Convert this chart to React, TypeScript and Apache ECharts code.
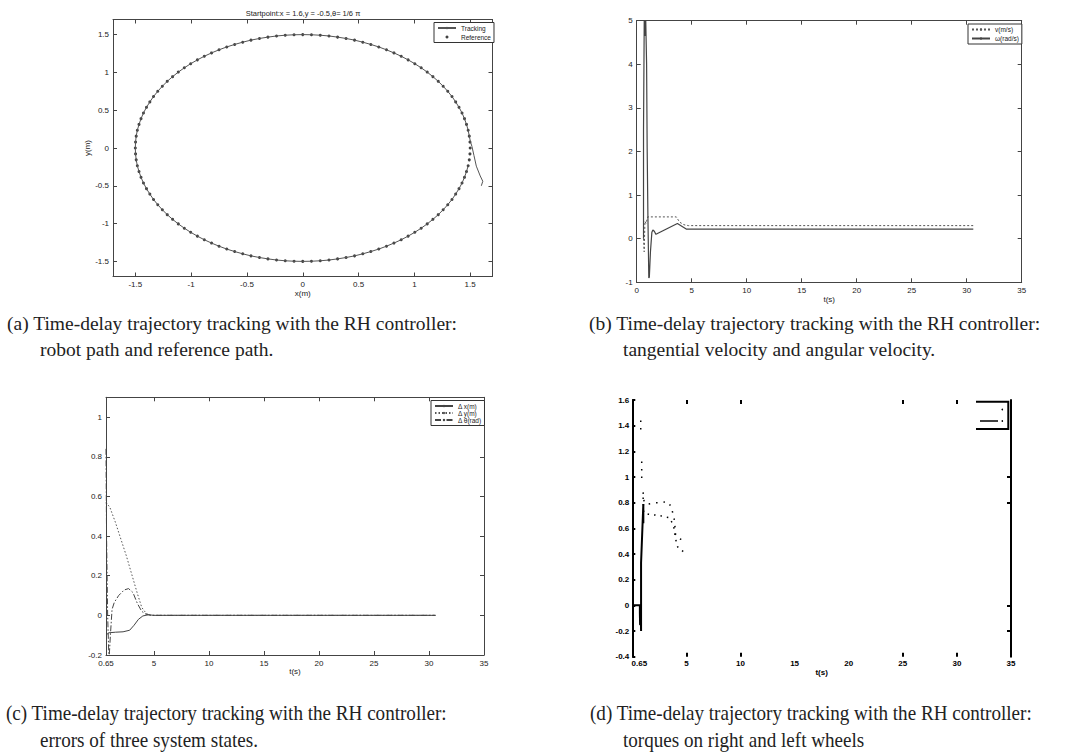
import React, { useEffect, useRef } from "react";
import * as echarts from "echarts";

// ---------- data ----------
// (a) reference circle (radius 1.5) read off the dotted path
const refPath: number[][] = [
  [1.5, 0.0], [1.498, 0.078], [1.492, 0.157], [1.482, 0.235], [1.467, 0.312], [1.449, 0.388], [1.427, 0.464], [1.4, 0.538], [1.37, 0.61], [1.337, 0.681], [1.299, 0.75], [1.258, 0.817], [1.214, 0.882], [1.166, 0.944], [1.115, 1.004], [1.061, 1.061], [1.004, 1.115], [0.944, 1.166], [0.882, 1.214], [0.817, 1.258], [0.75, 1.299], [0.681, 1.337], [0.61, 1.37], [0.538, 1.4], [0.464, 1.427], [0.388, 1.449], [0.312, 1.467], [0.235, 1.482], [0.157, 1.492], [0.078, 1.498],
  [0.0, 1.5], [-0.078, 1.498], [-0.157, 1.492], [-0.235, 1.482], [-0.312, 1.467], [-0.388, 1.449], [-0.464, 1.427], [-0.538, 1.4], [-0.61, 1.37], [-0.681, 1.337], [-0.75, 1.299], [-0.817, 1.258], [-0.882, 1.214], [-0.944, 1.166], [-1.004, 1.115], [-1.061, 1.061], [-1.115, 1.004], [-1.166, 0.944], [-1.214, 0.882], [-1.258, 0.817], [-1.299, 0.75], [-1.337, 0.681], [-1.37, 0.61], [-1.4, 0.538], [-1.427, 0.464], [-1.449, 0.388], [-1.467, 0.312], [-1.482, 0.235], [-1.492, 0.157], [-1.498, 0.078],
  [-1.5, 0.0], [-1.498, -0.078], [-1.492, -0.157], [-1.482, -0.235], [-1.467, -0.312], [-1.449, -0.388], [-1.427, -0.464], [-1.4, -0.538], [-1.37, -0.61], [-1.337, -0.681], [-1.299, -0.75], [-1.258, -0.817], [-1.214, -0.882], [-1.166, -0.944], [-1.115, -1.004], [-1.061, -1.061], [-1.004, -1.115], [-0.944, -1.166], [-0.882, -1.214], [-0.817, -1.258], [-0.75, -1.299], [-0.681, -1.337], [-0.61, -1.37], [-0.538, -1.4], [-0.464, -1.427], [-0.388, -1.449], [-0.312, -1.467], [-0.235, -1.482], [-0.157, -1.492], [-0.078, -1.498],
  [0.0, -1.5], [0.078, -1.498], [0.157, -1.492], [0.235, -1.482], [0.312, -1.467], [0.388, -1.449], [0.464, -1.427], [0.538, -1.4], [0.61, -1.37], [0.681, -1.337], [0.75, -1.299], [0.817, -1.258], [0.882, -1.214], [0.944, -1.166], [1.004, -1.115], [1.061, -1.061], [1.115, -1.004], [1.166, -0.944], [1.214, -0.882], [1.258, -0.817], [1.299, -0.75], [1.337, -0.681], [1.37, -0.61], [1.4, -0.538], [1.427, -0.464], [1.449, -0.388], [1.467, -0.312], [1.482, -0.235], [1.492, -0.157], [1.498, -0.078],
];
// (a) robot start-up segment before it joins the reference
const trackStart: number[][] = [
  [1.6, -0.5], [1.613, -0.44], [1.59, -0.37], [1.555, -0.24], [1.534, -0.1], [1.516, 0.02], [1.503, 0.08],
];
const axisTicksA = [-1.5, -1, -0.5, 0, 0.5, 1, 1.5];

// (b) velocities
const vData: number[][] = [
  [0.62, 0], [0.68, -0.3], [0.75, 0.4], [0.85, 0.35], [0.95, 0.45], [1.0, 0.5], [3.6, 0.5], [3.9, 0.38], [4.3, 0.32], [4.7, 0.3], [30.6, 0.3],
];
const wData: number[][] = [
  [0.62, 0], [0.62, 2.5], [0.7, 5.6], [0.76, 4.65], [0.8, 5.3], [0.9, 4.0], [0.95, 2.1], [1.02, 0.5], [1.1, -0.9], [1.15, -0.88], [1.25, -0.3], [1.38, 0.15], [1.47, 0.2], [1.6, 0.17], [1.75, 0.1], [3.7, 0.35], [4.5, 0.22], [30.6, 0.22],
];
const xTicksB = [0, 5, 10, 15, 20, 25, 30, 35];
const yTicksB = [-1, 0, 1, 2, 3, 4, 5];

// (c) state errors
const dxData: number[][] = [
  [0.65, -0.1], [0.9, -0.088], [1.5, -0.085], [2.2, -0.083], [2.8, -0.075], [3.2, -0.05], [3.6, -0.02], [4.0, -0.003], [4.5, 0.003], [5, 0], [30.6, 0],
];
const dyData: number[][] = [
  [0.65, 0.57], [1.0, 0.545], [1.5, 0.47], [2.0, 0.385], [2.5, 0.3], [3.0, 0.205], [3.5, 0.11], [3.9, 0.04], [4.3, 0.01], [4.7, 0], [30.6, 0],
];
const dthData: number[][] = [
  [0.65, 0.84], [0.7, 0.4], [0.8, 0.0], [0.9, -0.19], [0.95, -0.2], [1.05, -0.1], [1.2, 0.03], [1.4, 0.065], [1.8, 0.1], [2.3, 0.128], [2.7, 0.135], [3.1, 0.115], [3.5, 0.06], [3.9, 0.02], [4.3, 0.005], [4.8, 0], [30.6, 0],
];
const xTicksC = [0.65, 5, 10, 15, 20, 25, 30, 35];
const yTicksC = [-0.2, 0, 0.2, 0.4, 0.6, 0.8, 1];

// (d) wheel torques
const tauRData: (number | null)[][] = [
  [0.78, 1.44], [0.78, 1.34], [0.8, null], [0.87, 1.12], [0.87, 0.99], [0.9, null], [1.0, 0.88], [1.1, 0.8], [1.5, 0.79], [2.1, 0.8], [2.7, 0.8], [3.2, 0.81], [3.6, 0.77], [3.9, 0.66], [4.0, 0.55], [4.3, 0.52], [4.7, 0.51], [5.0, 0.51],
];
const tauLData: number[][] = [
  [1.0, 0.84], [1.05, 0.72], [1.5, 0.71], [2.0, 0.705], [2.5, 0.7], [3.0, 0.69], [3.4, 0.684], [3.66, 0.647], [3.8, 0.626], [3.9, 0.574], [4.0, 0.521], [4.1, 0.48], [4.2, 0.455], [4.4, 0.437], [4.7, 0.42], [5.1, 0.41],
];
const tauSData: number[][] = [
  [0, 0], [0.7, 0], [0.7, -0.06], [0.72, -0.15], [0.8, -0.15], [0.81, -0.2], [0.81, 0.33], [0.85, 0.33], [1.02, 0.79], [1.02, 0.64],
];
const xTicksD = [0.65, 5, 10, 15, 20, 25, 30, 35];
const xTopTicksD = [5, 10, 25, 30];
const yTicksD = [-0.4, -0.2, 0, 0.2, 0.4, 0.6, 0.8, 1, 1.2, 1.4, 1.6];
const yRightTicksD = [-0.2, 0, 0.8, 1];

const SANS = '"Liberation Sans", Arial, sans-serif';
const SERIF = '"Liberation Serif", "Times New Roman", serif';
const AX = "#444";
const LBL = { fontSize: 8, color: "#222", fontFamily: SANS };

function xAxes(gi: number, min: number, max: number, ticks: number[], name: string, nameGap: number, topTicks?: number[]) {
  return [
    {
      type: "value", gridIndex: gi, position: "bottom", min, max, name, nameLocation: "middle", nameGap,
      nameTextStyle: { ...LBL },
      axisLine: { show: true, onZero: false, lineStyle: { color: AX, width: 1 } },
      axisTick: { show: true, inside: true, length: 4, customValues: ticks, lineStyle: { color: AX } },
      axisLabel: { show: true, margin: 4, customValues: ticks, ...LBL },
      splitLine: { show: false },
    },
    {
      type: "value", gridIndex: gi, position: "top", min, max,
      axisLine: { show: true, onZero: false, lineStyle: { color: AX, width: 1 } },
      axisTick: { show: true, inside: true, length: 4, customValues: topTicks || ticks, lineStyle: { color: AX } },
      axisLabel: { show: false },
      splitLine: { show: false },
    },
  ];
}
function yAxes(gi: number, min: number, max: number, ticks: number[], name?: string, nameGap?: number) {
  return [
    {
      type: "value", gridIndex: gi, position: "left", min, max, name, nameLocation: "middle", nameGap, nameRotate: 90,
      nameTextStyle: { ...LBL },
      axisLine: { show: true, onZero: false, lineStyle: { color: AX, width: 1 } },
      axisTick: { show: true, inside: true, length: 4, customValues: ticks, lineStyle: { color: AX } },
      axisLabel: { show: true, margin: 4, customValues: ticks, ...LBL },
      splitLine: { show: false },
    },
    {
      type: "value", gridIndex: gi, position: "right", min, max,
      axisLine: { show: true, onZero: false, lineStyle: { color: AX, width: 1 } },
      axisTick: { show: true, inside: true, length: 4, customValues: ticks, lineStyle: { color: AX } },
      axisLabel: { show: false },
      splitLine: { show: false },
    },
  ];
}

export default function App() {
  const ref = useRef<HTMLDivElement>(null);
  useEffect(() => {
    if (!ref.current) return;
    const chart = echarts.init(ref.current, null, { renderer: "svg" });

    const tracking = trackStart.concat(refPath.slice(2, 118));

    const xa: any[] = [
      ...xAxes(0, -1.7, 1.7, axisTicksA, "x(m)", 12),
      ...xAxes(1, 0, 35, xTicksB, "t(s)", 12),
      ...xAxes(2, 0.65, 35, xTicksC, "t(s)", 12),
      ...xAxes(3, 0, 35, xTicksD, "t(s)", 11, xTopTicksD),
    ];
    const ya: any[] = [
      ...yAxes(0, -1.7, 1.7, axisTicksA, "y(m)", 17),
      ...yAxes(1, -1, 5, yTicksB),
      ...yAxes(2, -0.2, 1.1, yTicksC),
      ...yAxes(3, -0.4, 1.6, yTicksD),
    ];
    // panel (d): degraded look - thick left/right lines, no top/bottom lines, bold labels
    const dStrong = { fontSize: 8, color: "#000", fontWeight: "bold", fontFamily: SANS };
    xa[6].axisLine = { show: false, onZero: false };
    xa[6].axisTick = { show: true, inside: true, length: 4, customValues: xTopTicksD, lineStyle: { color: "#000", width: 2 } };
    xa[6].axisLabel = { show: true, margin: 3, customValues: xTicksD, ...dStrong };
    xa[6].nameTextStyle = { ...dStrong };
    xa[7].axisLine = { show: false, onZero: false };
    xa[7].axisTick = { show: true, inside: true, length: 4, customValues: xTopTicksD, lineStyle: { color: "#000", width: 2 } };
    ya[6].axisLine = { show: true, onZero: false, lineStyle: { color: "#000", width: 2 } };
    ya[6].axisTick = { show: true, inside: true, length: 3, customValues: yTicksD, lineStyle: { color: "#000", width: 2 } };
    ya[6].axisLabel = { show: true, margin: 3, customValues: yTicksD, ...dStrong };
    ya[7].axisLine = { show: true, onZero: false, lineStyle: { color: "#000", width: 2 } };
    ya[7].axisTick = { show: true, inside: true, length: 4, customValues: yRightTicksD, lineStyle: { color: "#000", width: 2 } };

    const legendBase = {
      orient: "vertical", itemGap: 2, padding: [2, 3, 2, 3], borderColor: "#333", borderWidth: 1,
      backgroundColor: "#fff", selectedMode: false, itemWidth: 18, itemHeight: 3,
      textStyle: { fontSize: 6.5, color: "#222", fontFamily: SANS },
    };

    const option: any = {
      animation: false,
      backgroundColor: "#fff",
      grid: [
        { left: 113, top: 19.5, width: 379.5, height: 257 },
        { left: 636.7, top: 20.7, width: 385, height: 261.6 },
        { left: 106, top: 397.3, width: 378, height: 257.7 },
        { left: 632.3, top: 400, width: 378.7, height: 256.7 },
      ],
      xAxis: xa,
      yAxis: ya,
      legend: [
        { ...legendBase, data: ["Tracking", "Reference"], left: 434, top: 22.5 },
        { ...legendBase, data: ["v(m/s)", "ω(rad/s)"], left: 968, top: 24 },
        { ...legendBase, data: ["Δ x(m)", "Δ y(m)", "Δ θ(rad)"], left: 431, top: 400.5, itemGap: 0 },
      ],
      series: [
        { type: "line", name: "Tracking", xAxisIndex: 0, yAxisIndex: 0, data: tracking, symbol: "none", lineStyle: { color: "#555", width: 1 }, itemStyle: { color: "#555" } },
        { type: "scatter", name: "Reference", xAxisIndex: 0, yAxisIndex: 0, data: refPath, symbolSize: 3, itemStyle: { color: "#111" } },

        { type: "line", name: "v(m/s)", xAxisIndex: 2, yAxisIndex: 2, data: vData, symbol: "none", lineStyle: { color: "#555", width: 1, type: [2, 2] }, itemStyle: { color: "#555" } },
        { type: "line", name: "ω(rad/s)", xAxisIndex: 2, yAxisIndex: 2, data: wData, symbol: "none", lineStyle: { color: "#444", width: 1.2 }, itemStyle: { color: "#444" } },

        { type: "line", name: "Δ x(m)", xAxisIndex: 4, yAxisIndex: 4, data: dxData, symbol: "none", lineStyle: { color: "#444", width: 1 }, itemStyle: { color: "#444" } },
        { type: "line", name: "Δ y(m)", xAxisIndex: 4, yAxisIndex: 4, data: dyData, symbol: "none", lineStyle: { color: "#555", width: 1, type: [1.5, 2] }, itemStyle: { color: "#555" } },
        { type: "line", name: "Δ θ(rad)", xAxisIndex: 4, yAxisIndex: 4, data: dthData, symbol: "none", lineStyle: { color: "#444", width: 1, type: [6, 2, 1.5, 2] }, itemStyle: { color: "#444" } },

        { type: "line", name: "τR", xAxisIndex: 6, yAxisIndex: 6, data: tauRData, symbol: "none", connectNulls: false, lineStyle: { color: "#000", width: 1.5, type: [1.5, 6] } },
        { type: "line", name: "τL", xAxisIndex: 6, yAxisIndex: 6, data: tauLData, symbol: "none", lineStyle: { color: "#000", width: 1.5, type: [1.5, 5] } },
        { type: "line", name: "τS", xAxisIndex: 6, yAxisIndex: 6, data: tauSData, symbol: "none", lineStyle: { color: "#000", width: 2 } },
      ],
      graphic: [
        { type: "text", x: 303, y: 13, style: { text: "Startpoint:x = 1.6,y = -0.5,θ= 1/6 π", fontSize: 7.5, fill: "#222", fontFamily: SANS, textAlign: "center", textVerticalAlign: "middle" } },
        // (d) legend remnants
        { type: "polyline", shape: { points: [[976, 401.7], [1008.3, 401.7], [1008.3, 429], [976, 429]] }, style: { stroke: "#000", lineWidth: 2, fill: null } },
        { type: "line", shape: { x1: 980, y1: 421, x2: 998, y2: 421 }, style: { stroke: "#000", lineWidth: 1.5 } },
        { type: "circle", shape: { cx: 1002.3, cy: 409.5, r: 0.8 }, style: { fill: "#000" } },
        { type: "circle", shape: { cx: 1002.3, cy: 421, r: 0.8 }, style: { fill: "#000" } },
        // captions
        { type: "text", x: 7, y: 323, style: { text: "(a) Time-delay trajectory tracking with the RH controller:", fontSize: 19.5, fill: "#222", fontFamily: SERIF, textVerticalAlign: "middle" } },
        { type: "text", x: 40, y: 349, style: { text: "robot path and reference path.", fontSize: 19.5, fill: "#222", fontFamily: SERIF, textVerticalAlign: "middle" } },
        { type: "text", x: 589, y: 323, style: { text: "(b) Time-delay trajectory tracking with the RH controller:", fontSize: 19.5, fill: "#222", fontFamily: SERIF, textVerticalAlign: "middle" } },
        { type: "text", x: 623, y: 349, style: { text: "tangential velocity and angular velocity.", fontSize: 19.5, fill: "#222", fontFamily: SERIF, textVerticalAlign: "middle" } },
        { type: "text", x: 6, y: 713, scaleX: 0.91, style: { text: "(c) Time-delay trajectory tracking with the RH controller:", fontSize: 21, fill: "#222", fontFamily: SERIF, textVerticalAlign: "middle" } },
        { type: "text", x: 40, y: 740, scaleX: 0.91, style: { text: "errors of three system states.", fontSize: 21, fill: "#222", fontFamily: SERIF, textVerticalAlign: "middle" } },
        { type: "text", x: 590, y: 713, scaleX: 0.91, style: { text: "(d) Time-delay trajectory tracking with the RH controller:", fontSize: 21, fill: "#222", fontFamily: SERIF, textVerticalAlign: "middle" } },
        { type: "text", x: 623, y: 740, scaleX: 0.91, style: { text: "torques on right and left wheels", fontSize: 21, fill: "#222", fontFamily: SERIF, textVerticalAlign: "middle" } },
      ],
    };
    chart.setOption(option);
    return () => chart.dispose();
  }, []);
  return <div ref={ref} style={{ position: "absolute", left: 0, top: 0, width: 1082, height: 754 }} />;
}
